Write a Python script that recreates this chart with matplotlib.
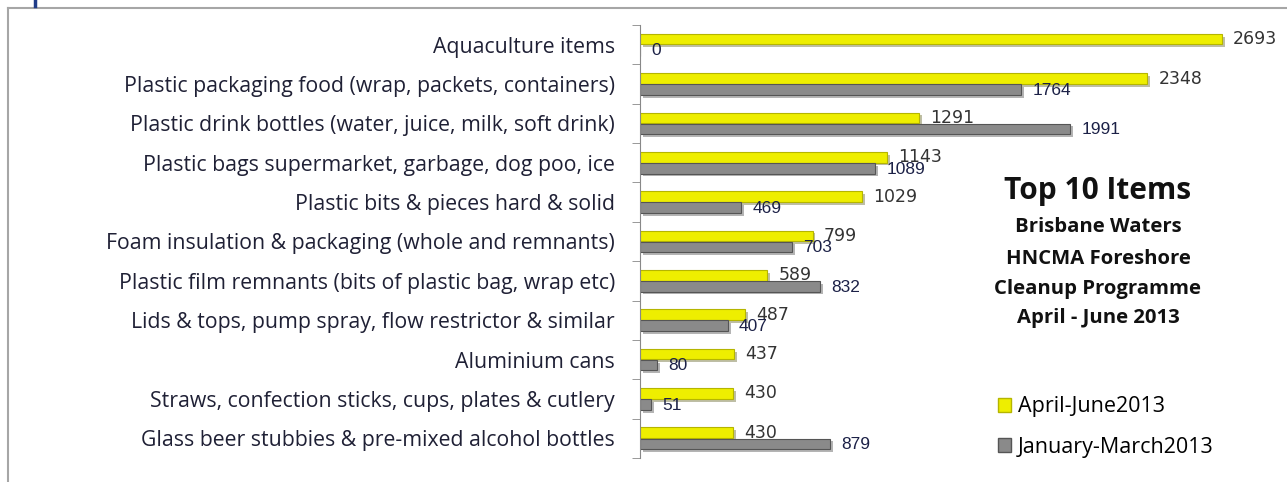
#!/usr/bin/env python3
"""Top 10 litter items, Brisbane Waters foreshore cleanup 2013."""

import matplotlib

matplotlib.use("Agg")
import matplotlib.pyplot as plt
import matplotlib.patheffects as pe
import numpy as np
from matplotlib.lines import Line2D
from matplotlib.patches import Patch

categories = [
    "Aquaculture items",
    "Plastic packaging food (wrap, packets, containers)",
    "Plastic drink bottles (water, juice, milk, soft drink)",
    "Plastic bags supermarket, garbage, dog poo, ice",
    "Plastic bits & pieces hard & solid",
    "Foam insulation & packaging (whole and remnants)",
    "Plastic film remnants (bits of plastic bag, wrap etc)",
    "Lids & tops, pump spray, flow restrictor & similar",
    "Aluminium cans",
    "Straws, confection sticks, cups, plates & cutlery",
    "Glass beer stubbies & pre-mixed alcohol bottles",
]
apr_jun = [2693, 2348, 1291, 1143, 1029, 799, 589, 487, 437, 430, 430]
jan_mar = [0, 1764, 1991, 1089, 469, 703, 832, 407, 80, 51, 879]

title_lines = [
    ("Top 10 Items", 21.5),
    ("Brisbane Waters", 14.6),
    ("HNCMA Foreshore", 14.6),
    ("Cleanup Programme", 14.6),
    ("April - June 2013", 14.6),
]

YELLOW = "#eeee00"
GRAY = "#8a8a8a"
FONT = "Open Sans"

W, H = 1287, 482
fig = plt.figure(figsize=(W / 100, H / 100), dpi=100)

# outer frame (only top and left edges are visible)
frame_kw = dict(color="#a6a6a6", lw=1.5, transform=fig.transFigure)
fig.add_artist(Line2D([8 / W, 1], [1 - 8 / H, 1 - 8 / H], **frame_kw))
fig.add_artist(Line2D([8 / W, 8 / W], [0, 1 - 8 / H], **frame_kw))
fig.add_artist(Line2D([35 / W, 35 / W], [1, 1 - 6 / H], color="#1f3c88", lw=2.5,
                      transform=fig.transFigure))

ax = fig.add_axes([640 / W, 1 - 458 / H, 1 - 640 / W, 433 / H])

y = np.arange(len(categories))
h = 0.27
shadow = [pe.SimplePatchShadow(offset=(2, -2), alpha=0.35), pe.Normal()]

b1 = ax.barh(y - 0.14, apr_jun, height=h, color=YELLOW, edgecolor="#b5b500", lw=0.8)
b2 = ax.barh(y + 0.14, jan_mar, height=h, color=GRAY, edgecolor="#555555", lw=0.8)
for bar in list(b1) + list(b2):
    bar.set_path_effects(shadow)

for yi, v in zip(y, apr_jun):
    ax.annotate(str(v), (v, yi - 0.14), xytext=(8, 0), textcoords="offset points",
                va="center", ha="left", fontsize=12.5, color="#333333",
                family="DejaVu Sans")
for yi, v in zip(y, jan_mar):
    ax.annotate(str(v), (v, yi + 0.16), xytext=(8, 0), textcoords="offset points",
                va="center", ha="left", fontsize=12.5, color="#1c2147",
                family=["Liberation Sans Narrow", "Liberation Sans"])

ax.set_xlim(0, (W - 640) / 0.2161)
ax.set_ylim(len(categories) - 0.5, -0.5)
ax.set_yticks(y)
ax.set_yticklabels(categories, family=FONT, fontsize=15.3, color="#1f2035")
ax.set_yticks(np.arange(len(categories) + 1) - 0.5, minor=True)
ax.tick_params(axis="y", which="major", length=0, pad=18)
ax.tick_params(axis="y", which="minor", length=6, color="#888888", direction="out")
ax.set_xticks([])
for side in ("top", "right", "bottom"):
    ax.spines[side].set_visible(False)
ax.spines["left"].set_color("#888888")

ty = [191, 227, 259, 289, 318]
for (txt, fs), py in zip(title_lines, ty):
    fig.text(1098 / W, 1 - py / H, txt, ha="center", va="center", family=FONT,
             fontweight="bold", fontsize=fs, color="#111111")

handles = [Patch(facecolor=YELLOW, edgecolor="#b5b500"),
           Patch(facecolor=GRAY, edgecolor="#555555")]
fig.legend(handles, ["April-June2013", "January-March2013"], loc="upper left",
           bbox_to_anchor=(979 / W, 1 - 377 / H), frameon=False, handlelength=0.6,
           handleheight=0.6, handletextpad=0.3, labelspacing=0.9,
           prop={"family": FONT, "size": 15.5})

fig.savefig("out.png", dpi=100)
